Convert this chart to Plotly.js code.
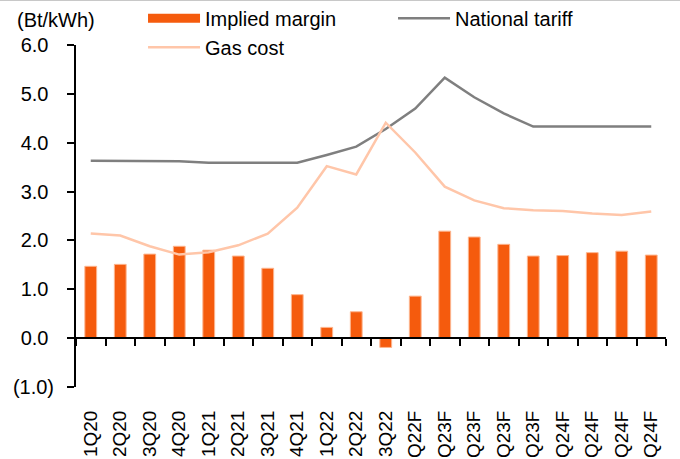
<!DOCTYPE html>
<html>
<head>
<meta charset="utf-8">
<script src="https://cdn.plot.ly/plotly-3.0.1.min.js"></script>
<style>html,body{margin:0;padding:0;background:#fff;}#chart{width:680px;height:459px;}</style>
</head>
<body>
<div id="chart"></div>
<script>
const categories = ["1Q20","2Q20","3Q20","4Q20","1Q21","2Q21","3Q21","4Q21","1Q22","2Q22","3Q22","Q22F","Q23F","Q23F","Q23F","Q23F","Q24F","Q24F","Q24F","Q24F"];
const impliedMargin = [1.47,1.51,1.72,1.88,1.80,1.68,1.43,0.89,0.22,0.54,-0.19,0.86,2.19,2.07,1.92,1.68,1.69,1.75,1.78,1.70];
const nationalTariff = [3.63,3.63,3.62,3.62,3.59,3.59,3.59,3.59,3.75,3.92,4.28,4.70,5.33,4.93,4.60,4.33,4.33,4.33,4.33,4.33];
const gasCost = [2.14,2.10,1.88,1.71,1.76,1.90,2.14,2.67,3.52,3.35,4.41,3.80,3.10,2.82,2.66,2.62,2.60,2.55,2.52,2.59];
const yTickVals = [-1,0,1,2,3,4,5,6];
const yTickText = ["(1.0)","0.0\u00a0","1.0\u00a0","2.0\u00a0","3.0\u00a0","4.0\u00a0","5.0\u00a0","6.0\u00a0"];

const idx = categories.map((_, i) => i);
const FONT = "Liberation Sans, Arial, sans-serif";
const BAR_COLOR = '#F55B0D';

const traces = [
  // legend-only entry drawn as a wide swatch, like the reference
  {type:'scatter', mode:'lines', name:'Implied margin', x:[null], y:[null], xaxis:'x2', yaxis:'y',
   line:{color:BAR_COLOR, width:9}, hoverinfo:'skip'},
  {type:'scatter', mode:'lines', name:'National tariff', x: idx, y: nationalTariff, xaxis:'x2', yaxis:'y',
   line:{color:'#7F7F7F', width:2.5}},
  {type:'bar', name:'Implied margin', x: idx, y: impliedMargin, xaxis:'x', yaxis:'y', showlegend:false,
   width:0.4, marker:{color:BAR_COLOR, line:{color:'#FDB58E', width:1}}},
  {type:'scatter', mode:'lines', name:'Gas cost', x: idx, y: gasCost, xaxis:'x2', yaxis:'y',
   line:{color:'#FFC6A9', width:2.5}}
];

const layout = {
  width:680, height:459,
  margin:{l:76, r:14, t:45, b:72, autoexpand:false},
  paper_bgcolor:'#fff', plot_bgcolor:'#fff',
  font:{family:FONT, size:20, color:'#000'},
  showlegend:true,
  legend:{orientation:'h', x:0.1136, xanchor:'left', y:1.135, yanchor:'top',
          entrywidth:183, entrywidthmode:'pixels', itemwidth:52,
          font:{family:FONT, size:20, color:'#000'}, tracegroupgap:0, bgcolor:'rgba(0,0,0,0)',
          traceorder:'normal'},
  xaxis:{type:'linear', range:[-0.5,19.5], tickmode:'array', tickvals: idx, ticktext: categories,
         tickangle:-90, showline:false, showgrid:false, zeroline:false,
         ticks:'outside', ticklen:15, tickcolor:'rgba(0,0,0,0)',
         tickfont:{family:FONT, size:19, color:'#000'}},
  xaxis2:{type:'linear', matches:'x', overlaying:'x', anchor:'free', position:1/7,
          showline:true, linecolor:'#000', linewidth:2, showgrid:false, zeroline:false,
          tickmode:'linear', tick0:-0.5, dtick:1, ticks:'outside', ticklen:7, tickwidth:2, tickcolor:'#000',
          showticklabels:false},
  yaxis:{range:[-1,6], tickmode:'array', tickvals:yTickVals, ticktext:yTickText,
         showline:true, linecolor:'#000', linewidth:2, ticks:'outside', ticklen:7, tickwidth:2, tickcolor:'#000',
         showgrid:false, zeroline:false, ticklabelstandoff:9,
         tickfont:{family:FONT, size:20, color:'#000'}},
  annotations:[
    {text:'(Bt/kWh)', xref:'paper', yref:'paper', x:-0.1034, y:1.073, xanchor:'left', yanchor:'middle',
     showarrow:false, font:{family:FONT, size:20, color:'#000'}}
  ],
  shapes:[
    {type:'line', xref:'paper', yref:'paper', x0:-0.2, x1:1.05, y0:1.1316, y1:1.1316,
     line:{color:'#C8C8C8', width:2}}
  ]
};

Plotly.newPlot('chart', traces, layout, {displayModeBar:false, staticPlot:true});
</script>
</body>
</html>
